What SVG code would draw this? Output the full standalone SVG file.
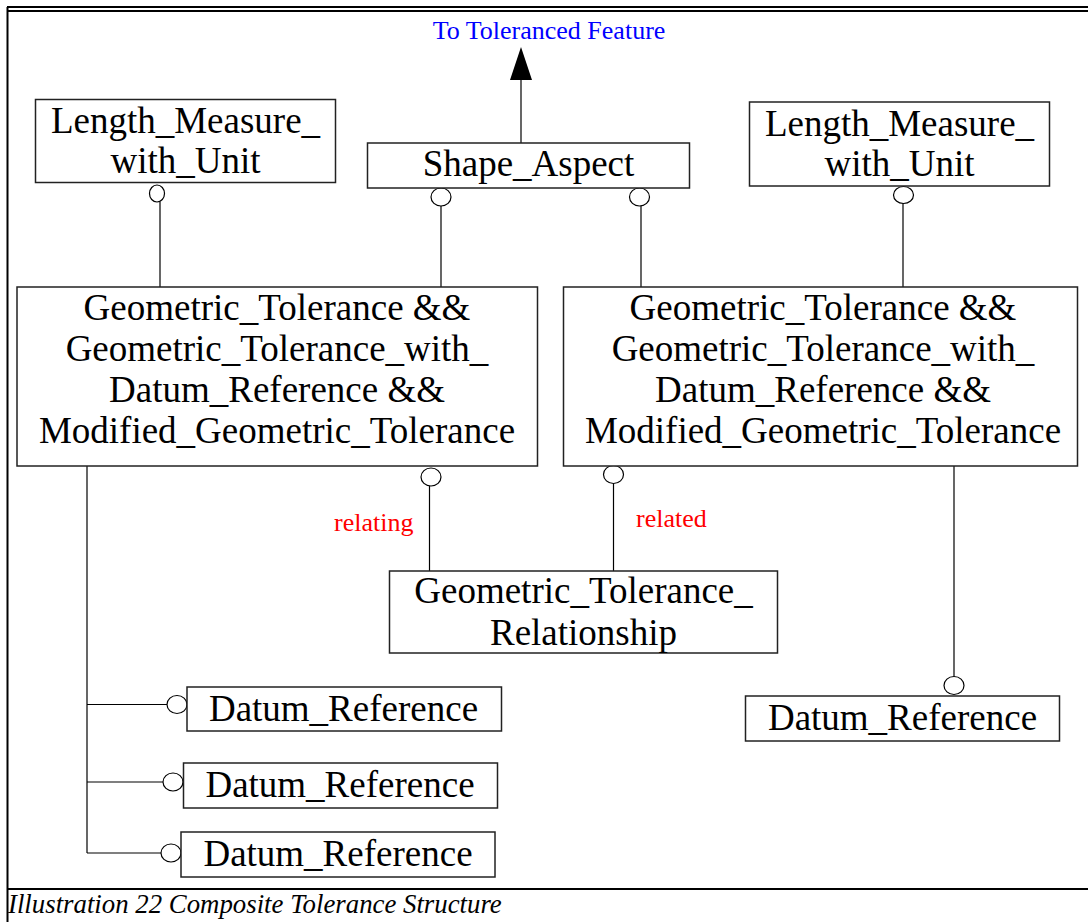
<svg xmlns="http://www.w3.org/2000/svg" width="1088" height="922" viewBox="0 0 1088 922">
<style>
.box{fill:#fff;stroke:#222;stroke-width:1.5}
.t{font-family:"Liberation Serif","Times New Roman",serif;font-size:37px;fill:#000;text-anchor:middle}
.lbl{font-family:"Liberation Serif","Times New Roman",serif;font-size:26px;fill:#ff0000}
.ln{stroke:#000;stroke-width:1.2;fill:none}
.ring{fill:#fff;stroke:#000;stroke-width:1.2}
.frame{stroke:#000;stroke-width:2;fill:none}
</style>
<rect width="1088" height="922" fill="#fff"/>
<g id="frame">
<line class="frame" x1="7" y1="7" x2="1088" y2="7"/>
<line class="frame" x1="7" y1="11" x2="1088" y2="11"/>
<line class="frame" x1="7.5" y1="7" x2="7.5" y2="922"/>
<line class="frame" x1="7" y1="889" x2="1088" y2="889"/>
<text x="8" y="913" style="font-family:'Liberation Serif','Times New Roman',serif;font-size:26.8px;font-style:italic;fill:#000">Illustration 22 Composite Tolerance Structure</text>
</g>
<g id="connectors">
<line class="ln" x1="521" y1="143" x2="521" y2="78"/>
<polygon points="521,47 510,80 532,80" fill="#000"/>
<line class="ln" x1="160" y1="202" x2="160" y2="287"/>
<line class="ln" x1="441" y1="206" x2="441" y2="287"/>
<line class="ln" x1="641" y1="206" x2="641" y2="287"/>
<line class="ln" x1="903" y1="203" x2="903" y2="287"/>
<line class="ln" x1="429.5" y1="486" x2="429.5" y2="571"/>
<line class="ln" x1="613.5" y1="483" x2="613.5" y2="571"/>
<line class="ln" x1="954" y1="466" x2="954" y2="676"/>
<line class="ln" x1="87" y1="466" x2="87" y2="853"/>
<line class="ln" x1="87" y1="704.5" x2="167" y2="704.5"/>
<line class="ln" x1="87" y1="782" x2="163" y2="782"/>
<line class="ln" x1="87" y1="853" x2="161" y2="853"/>
<ellipse class="ring" cx="157" cy="193.5" rx="7.5" ry="8.5"/>
<ellipse class="ring" cx="441" cy="197" rx="10" ry="9"/>
<ellipse class="ring" cx="639.5" cy="197" rx="10" ry="9"/>
<ellipse class="ring" cx="903.5" cy="195" rx="10" ry="8.5"/>
<ellipse class="ring" cx="431" cy="477" rx="10" ry="9"/>
<ellipse class="ring" cx="613.5" cy="474.5" rx="10" ry="9"/>
<ellipse class="ring" cx="954" cy="685.5" rx="10" ry="9"/>
<ellipse class="ring" cx="177" cy="704.5" rx="10" ry="9"/>
<ellipse class="ring" cx="173" cy="782" rx="10" ry="9"/>
<ellipse class="ring" cx="171" cy="853" rx="10" ry="9"/>
<text class="lbl" x="549" y="39" text-anchor="middle" style="fill:#0000ff">To Toleranced Feature</text>
<text class="lbl" x="334" y="531">relating</text>
<text class="lbl" x="636" y="527">related</text>
</g>
<g id="lmu-left">
<rect class="box" x="35.5" y="99.5" width="300" height="83"/>
<text class="t" x="185.5" y="133">Length_Measure_</text>
<text class="t" x="185.5" y="173">with_Unit</text>
</g>
<g id="shape-aspect">
<rect class="box" x="367.5" y="143" width="322" height="45"/>
<text class="t" x="528.5" y="176">Shape_Aspect</text>
</g>
<g id="lmu-right">
<rect class="box" x="749.5" y="102" width="300" height="84"/>
<text class="t" x="899.5" y="136">Length_Measure_</text>
<text class="t" x="899.5" y="176">with_Unit</text>
</g>
<g id="gt-left">
<rect class="box" x="17" y="287" width="520.5" height="179"/>
<text class="t" x="277" y="320">Geometric_Tolerance &amp;&amp;</text>
<text class="t" x="277" y="361">Geometric_Tolerance_with_</text>
<text class="t" x="277" y="402">Datum_Reference &amp;&amp;</text>
<text class="t" x="277" y="443">Modified_Geometric_Tolerance</text>
</g>
<g id="gt-right">
<rect class="box" x="563.5" y="287" width="514" height="179"/>
<text class="t" x="823" y="320">Geometric_Tolerance &amp;&amp;</text>
<text class="t" x="823" y="361">Geometric_Tolerance_with_</text>
<text class="t" x="823" y="402">Datum_Reference &amp;&amp;</text>
<text class="t" x="823" y="443">Modified_Geometric_Tolerance</text>
</g>
<g id="gt-relationship">
<rect class="box" x="389.5" y="571" width="388" height="82"/>
<text class="t" x="583.5" y="603">Geometric_Tolerance_</text>
<text class="t" x="583.5" y="645">Relationship</text>
</g>
<g id="dr-1">
<rect class="box" x="187" y="687" width="314.5" height="44"/>
<text class="t" x="343.5" y="721">Datum_Reference</text>
</g>
<g id="dr-2">
<rect class="box" x="183.5" y="763" width="314" height="45"/>
<text class="t" x="340" y="797">Datum_Reference</text>
</g>
<g id="dr-3">
<rect class="box" x="181" y="832" width="314" height="45"/>
<text class="t" x="338" y="866">Datum_Reference</text>
</g>
<g id="dr-right">
<rect class="box" x="745.5" y="696" width="314" height="45"/>
<text class="t" x="902.5" y="730">Datum_Reference</text>
</g>
</svg>
